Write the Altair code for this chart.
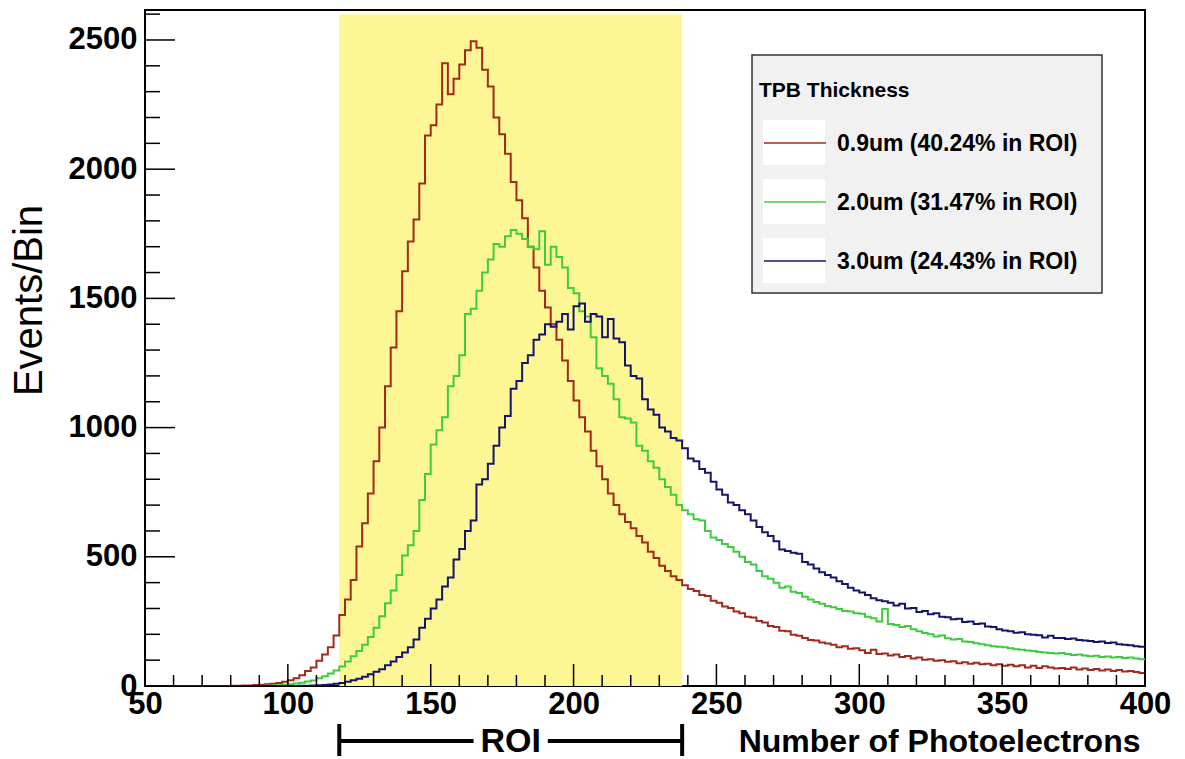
import altair as alt
import pandas as pd

# ---------------- data ----------------
bin_width = 2
x_start = 50
x_end = 400

# counts per 2-PE bin, bins start at 50, 52, ..., 398
red = [
    0, 0, 0, 0, 0, 0, 0, 0, 0, 0,                      # 50-68
    0, 0, 0, 0, 0, 1, 1, 2, 2, 4,                      # 70-88
    5, 7, 9, 12, 16, 22, 30, 42, 58, 72,               # 90-108
    98, 122, 150, 195, 275, 335, 410, 540, 630, 745,   # 110-128
    870, 1000, 1160, 1310, 1450, 1605, 1720, 1805, 1945, 2130,  # 130-148
    2170, 2250, 2410, 2290, 2350, 2405, 2460, 2495, 2470, 2385,  # 150-168
    2320, 2200, 2135, 2060, 1950, 1880, 1810, 1700, 1620, 1530,  # 170-188
    1465, 1400, 1340, 1260, 1180, 1105, 1040, 985, 910, 850,     # 190-208
    800, 745, 700, 665, 635, 610, 580, 555, 520, 495,            # 210-228
    465, 445, 425, 410, 390, 375, 368, 352, 348, 330,            # 230-248
    322, 308, 302, 288, 282, 268, 265, 252, 246, 232,            # 250-268
    228, 214, 212, 198, 194, 186, 178, 176, 168, 164,            # 270-288
    160, 150, 154, 144, 146, 138, 128, 140, 124, 126,            # 290-308
    118, 122, 112, 116, 106, 110, 102, 104, 98, 100,             # 310-328
    94, 96, 88, 92, 86, 90, 84, 86, 80, 84,                      # 330-348
    78, 82, 76, 80, 72, 78, 70, 76, 72, 68,                      # 350-368
    70, 66, 72, 64, 68, 62, 66, 60, 64, 58,                      # 370-388
    62, 56, 58, 54, 50,                                          # 390-398
]
green = [
    0, 0, 0, 0, 0, 0, 0, 0, 0, 0,                      # 50-68
    0, 0, 0, 0, 0, 0, 0, 0, 0, 0,                      # 70-88
    0, 1, 2, 3, 5, 7, 10, 13, 17, 21,                  # 90-108
    30, 38, 48, 60, 75, 95, 115, 135, 160, 190,        # 110-128
    225, 270, 320, 370, 430, 505, 545, 600, 720, 820,  # 130-148
    935, 990, 1040, 1160, 1200, 1280, 1440, 1460, 1530, 1600,    # 150-168
    1650, 1710, 1700, 1740, 1765, 1750, 1730, 1700, 1690, 1760,  # 170-188
    1630, 1700, 1660, 1620, 1540, 1520, 1450, 1430, 1350, 1230,  # 190-208
    1200, 1170, 1110, 1040, 1035, 1020, 930, 910, 870, 845,      # 210-228
    800, 770, 740, 700, 680, 665, 645, 640, 600, 575,            # 230-248
    565, 550, 538, 520, 500, 480, 470, 445, 425, 415,            # 250-268
    400, 380, 385, 365, 360, 345, 335, 325, 318, 310,            # 270-288
    305, 298, 290, 288, 282, 280, 268, 262, 250, 298,            # 290-308
    240, 236, 228, 232, 220, 212, 205, 200, 192, 195,            # 310-328
    185, 180, 182, 172, 170, 165, 162, 158, 154, 152,            # 330-348
    150, 146, 142, 140, 137, 135, 132, 130, 128, 126,            # 350-368
    128, 124, 120, 122, 118, 115, 117, 112, 114, 110,            # 370-388
    112, 108, 110, 106, 104,                                     # 390-398
]
blue = [
    0, 0, 0, 0, 0, 0, 0, 0, 0, 0,                      # 50-68
    0, 0, 0, 0, 0, 0, 0, 0, 0, 0,                      # 70-88
    0, 0, 0, 0, 0, 0, 0, 1, 1, 2,                      # 90-108
    3, 4, 6, 9, 12, 16, 22, 28, 36, 45,                # 110-128
    55, 65, 80, 95, 112, 130, 150, 180, 225, 260,      # 130-148
    300, 335, 385, 420, 490, 530, 600, 640, 780, 800,  # 150-168
    860, 930, 1000, 1045, 1150, 1180, 1250, 1280, 1340, 1360,    # 170-188
    1400, 1390, 1410, 1440, 1380, 1470, 1480, 1410, 1440, 1430,  # 190-208
    1350, 1420, 1345, 1330, 1240, 1200, 1190, 1110, 1070, 1050,  # 210-228
    1000, 985, 960, 950, 920, 880, 870, 840, 825, 790,           # 230-248
    760, 740, 710, 700, 680, 665, 640, 615, 595, 580,            # 250-268
    560, 528, 522, 516, 512, 480, 470, 455, 440, 430,            # 270-288
    420, 405, 395, 380, 370, 362, 352, 340, 332, 328,            # 290-308
    322, 312, 318, 300, 302, 286, 290, 278, 282, 268,            # 310-328
    266, 258, 260, 248, 250, 240, 242, 230, 228, 220,            # 330-348
    215, 212, 206, 208, 200, 198, 196, 188, 194, 186,            # 350-368
    186, 182, 184, 178, 176, 174, 170, 172, 166, 168,            # 370-388
    162, 160, 158, 154, 152,                                     # 390-398
]

series_values = [red, green, blue]
labels = ["0.9um (40.24% in ROI)", "2.0um (31.47% in ROI)", "3.0um (24.43% in ROI)"]
colors = ["#a22a1a", "#3fcb3f", "#14146e"]
legend_title = "TPB Thickness"

roi = [118, 238]
roi_top = 2600
y_max = 2616

x_major = list(range(50, 401, 50))
x_minor = [v for v in range(50, 401, 10) if v % 50]
y_major = list(range(0, 2501, 500))
y_minor = [v for v in range(100, 2617, 100) if v % 500]

# ---------------- layout ----------------
W, H = 1000, 676
FONT = "Liberation Sans"

xs = alt.Scale(domain=[x_start, x_end], nice=False, zero=False)
ys = alt.Scale(domain=[0, y_max], nice=False)

x_axis = alt.Axis(
    values=x_major, format="d", title="Number of Photoelectrons",
    titleX=995, titleY=65, titleAlign="right", titleBaseline="alphabetic",
    titleFontSize=32, titleFontWeight="bold", titleFont=FONT, titleColor="black",
    labelFontSize=31, labelFontWeight="bold", labelFont=FONT, labelColor="black",
    labelFlush=False, labelPadding=3, ticks=False, tickSize=0, domain=False, grid=False,
)
y_axis = alt.Axis(
    values=y_major, format="d", title="Events/Bin",
    titleX=-116, titleY=290, titleAngle=270, titleAlign="center", titleBaseline="middle",
    titleFontSize=40, titleFontWeight="normal", titleFont=FONT, titleColor="black",
    labelFontSize=31, labelFontWeight="bold", labelFont=FONT, labelColor="black",
    labelPadding=8, ticks=False, tickSize=0, domain=False, grid=False,
)

def X(field="x"):
    return alt.X(f"{field}:Q", scale=xs, axis=x_axis)

def Y(field="y"):
    return alt.Y(f"{field}:Q", scale=ys, axis=y_axis)

layers = []

# ROI yellow band
roi_df = pd.DataFrame({"x": [roi[0]], "x2": [roi[1]], "y": [0], "y2": [roi_top]})
layers.append(
    alt.Chart(roi_df).mark_rect(color="#fcf794").encode(x=X(), x2="x2:Q", y=Y(), y2="y2:Q")
)

# histograms (step lines)
for vals, col in zip(series_values, colors):
    edges = [x_start + bin_width * i for i in range(len(vals))] + [x_end]
    counts = list(vals) + [vals[-1]]
    df = pd.DataFrame({"x": edges, "y": counts})
    layers.append(
        alt.Chart(df).mark_line(interpolate="step-after", strokeWidth=2, color=col, clip=True)
        .encode(x=X(), y=Y())
    )

# inward ticks
def xticks(vals, length):
    return alt.Chart(pd.DataFrame({"x": vals})).mark_rule(color="black", strokeWidth=1.5).encode(
        x=X(), y=alt.value(H), y2=alt.value(H - length))

def yticks(vals, length):
    return alt.Chart(pd.DataFrame({"y": vals})).mark_rule(color="black", strokeWidth=1.5).encode(
        y=Y(), x=alt.value(0), x2=alt.value(length))

layers += [xticks(x_major, 22), xticks(x_minor, 11), yticks(y_major, 30), yticks(y_minor, 15)]

# ROI bracket below the axis
roi_mid = (roi[0] + roi[1]) / 2
gap = 13
bar_df = pd.DataFrame({"x": [roi[0], roi_mid + gap], "x2": [roi_mid - gap, roi[1]]})
layers.append(
    alt.Chart(bar_df).mark_rule(color="black", strokeWidth=4).encode(
        x=X(), x2="x2:Q", y=alt.value(731))
)
cap_df = pd.DataFrame({"x": roi})
layers.append(
    alt.Chart(cap_df).mark_rule(color="black", strokeWidth=4).encode(
        x=X(), y=alt.value(714), y2=alt.value(746))
)
txt_df = pd.DataFrame({"x": [roi_mid], "t": ["ROI"]})
layers.append(
    alt.Chart(txt_df).mark_text(font=FONT, fontSize=34, fontWeight="bold", color="black",
                                baseline="middle", align="center")
    .encode(x=X(), y=alt.value(732), text="t:N")
)

# legend box (ROOT TLegend style)
one = pd.DataFrame({"a": [0]})
layers.append(
    alt.Chart(one).mark_rect(fill="#f1f1f1", stroke="#333333", strokeWidth=1.5).encode(
        x=alt.value(607), x2=alt.value(957), y=alt.value(45), y2=alt.value(283))
)
layers.append(
    alt.Chart(one).mark_text(font=FONT, fontSize=21, fontWeight="bold", color="black",
                             align="left", baseline="alphabetic", text=legend_title)
    .encode(x=alt.value(614), y=alt.value(87))
)
for i, (lab, col) in enumerate(zip(labels, colors)):
    cy = 133 + i * 59
    layers.append(
        alt.Chart(one).mark_rect(fill="white").encode(
            x=alt.value(618), x2=alt.value(680), y=alt.value(cy - 23), y2=alt.value(cy + 22))
    )
    layers.append(
        alt.Chart(one).mark_rule(color=col, strokeWidth=1.5).encode(
            x=alt.value(619), x2=alt.value(681), y=alt.value(cy))
    )
    layers.append(
        alt.Chart(one).mark_text(font=FONT, fontSize=23, fontWeight="bold", color="black",
                                 align="left", baseline="middle", text=lab)
        .encode(x=alt.value(692), y=alt.value(cy + 1))
    )

chart = (
    alt.layer(*layers)
    .properties(width=W, height=H, background="white",
                padding={"left": 145, "top": 10, "right": 40, "bottom": 73},
                autosize=alt.AutoSizeParams(type="none"))
    .configure_view(stroke="black", strokeWidth=2)
)

chart.save("out.html", embed_options={"renderer": "svg", "actions": False})
